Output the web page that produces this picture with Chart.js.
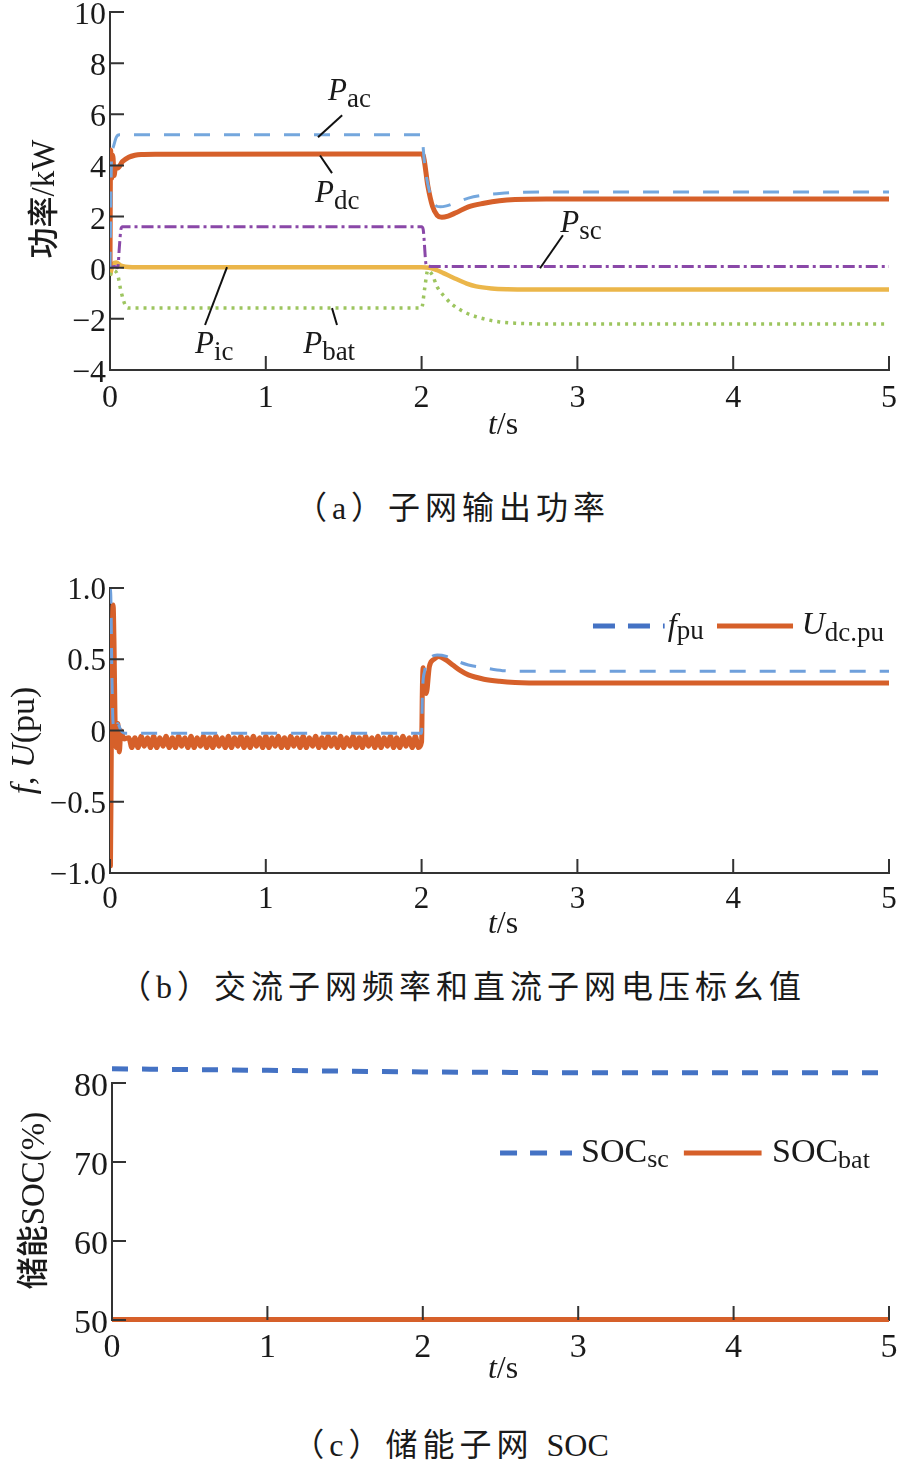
<!DOCTYPE html>
<html>
<head>
<meta charset="utf-8">
<script src="https://cdn.jsdelivr.net/npm/chart.js@4.4.1/dist/chart.umd.min.js"></script>
<style>
body { margin: 0; background: #fff; width: 897px; height: 1463px; position: relative; overflow: hidden; }
canvas { position: absolute; left: 0; }
.cap { position: absolute; width: 897px; text-align: center; font-family: "Liberation Serif", "Noto Sans CJK SC"; font-size: 32px; letter-spacing: 5px; color: #1a1a1a; line-height: 40px; white-space: nowrap; }
.cap span { letter-spacing: 0; }
</style>
</head>
<body>
<canvas id="chartA" width="897" height="445" style="top:0px"></canvas>
<div class="cap" style="top:488px;left:4px">（a）子网输出功率</div>
<canvas id="chartB" width="897" height="395" style="top:555px"></canvas>
<div class="cap" style="top:967px;left:14px">（b）交流子网频率和直流子网电压标幺值</div>
<canvas id="chartC" width="897" height="370" style="top:1030px"></canvas>
<div class="cap" style="top:1425px;left:2px">（c）储能子网 <span>SOC</span></div>
<script>
// ---- data: (a) output power, kW
const tAc  = [0, 0.01, 0.02, 0.04, 0.06, 2.0, 2.02, 2.05, 2.08, 2.12, 2.16, 2.22, 2.3, 2.4, 2.5, 2.6, 2.8, 5.0];
const pAc  = [0, 4.3, 4.7, 5.1, 5.2, 5.2, 4.0, 3.0, 2.5, 2.38, 2.42, 2.55, 2.72, 2.84, 2.9, 2.94, 2.96, 2.96];
const tDc  = [0, 0.004, 0.01, 0.018, 0.026, 0.035, 0.05, 0.08, 0.12, 0.16, 0.2, 0.3, 2.0, 2.01, 2.04, 2.07, 2.1, 2.13, 2.17, 2.22, 2.3, 2.4, 2.5, 2.6, 2.8, 5.0];
const pDc  = [0, 4.6, 3.5, 4.4, 3.6, 3.9, 3.9, 4.15, 4.32, 4.4, 4.43, 4.44, 4.45, 4.4, 3.2, 2.4, 2.05, 1.97, 2.02, 2.15, 2.38, 2.52, 2.62, 2.67, 2.69, 2.69];
const tSc  = [0, 0.03, 0.05, 0.06, 0.07, 0.08, 2.0, 2.01, 2.03, 2.06, 5.0];
const pSc  = [0, 0.05, 0.0, 0.8, 1.5, 1.6, 1.6, 1.5, 0.1, 0.05, 0.05];
const tIc  = [0, 0.02, 0.04, 0.07, 0.1, 0.2, 2.0, 2.05, 2.1, 2.14, 2.2, 2.29, 2.35, 2.45, 2.55, 2.7, 5.0];
const pIc  = [-0.3, 0.15, 0.2, 0.08, 0.04, 0.02, 0.02, 0.0, -0.1, -0.21, -0.38, -0.62, -0.73, -0.81, -0.84, -0.85, -0.85];
const tBat = [0, 0.02, 0.05, 0.07, 0.1, 0.12, 2.0, 2.02, 2.04, 2.07, 2.1, 2.15, 2.2, 2.29, 2.4, 2.5, 2.6, 2.8, 5.0];
const pBat = [-0.3, -0.1, -0.3, -0.9, -1.5, -1.58, -1.58, -0.8, -0.1, -0.3, -0.75, -1.15, -1.45, -1.78, -2.0, -2.12, -2.17, -2.2, -2.2];

// ---- data: (b) per-unit frequency / dc voltage
const tF  = [0, 0.005, 0.012, 0.02, 0.035, 0.05, 0.07, 0.1, 2.0, 2.005, 2.02, 2.05, 2.1, 2.16, 2.22, 2.3, 2.4, 2.52, 2.7, 5.0];
const fPu = [1.0, 0.95, 0.4, 0.05, 0.0, 0.05, 0.0, -0.02, -0.02, 0.25, 0.42, 0.5, 0.53, 0.52, 0.49, 0.46, 0.44, 0.42, 0.415, 0.415];
const tU = [0, 0.003, 0.008, 0.014, 0.02, 0.026, 0.032, 0.04, 0.05, 0.06, 0.07, 0.09, 0.12,
  0.14, 0.16, 0.18, 0.20, 0.22, 0.24, 0.26, 0.28, 0.30, 0.32, 0.34, 0.36, 0.38, 0.40, 0.42, 0.44, 0.46, 0.48, 0.50, 0.52,
  0.54, 0.56, 0.58, 0.60, 0.62, 0.64, 0.66, 0.68, 0.70, 0.72, 0.74, 0.76, 0.78, 0.80, 0.82, 0.84, 0.86, 0.88, 0.90, 0.92,
  0.94, 0.96, 0.98, 1.00, 1.02, 1.04, 1.06, 1.08, 1.10, 1.12, 1.14, 1.16, 1.18, 1.20, 1.22, 1.24, 1.26, 1.28, 1.30, 1.32,
  1.34, 1.36, 1.38, 1.40, 1.42, 1.44, 1.46, 1.48, 1.50, 1.52, 1.54, 1.56, 1.58, 1.60, 1.62, 1.64, 1.66, 1.68, 1.70, 1.72,
  1.74, 1.76, 1.78, 1.80, 1.82, 1.84, 1.86, 1.88, 1.90, 1.92, 1.94, 1.96, 1.98,
  2.0, 2.005, 2.01, 2.02, 2.03, 2.05, 2.08, 2.11, 2.15, 2.2, 2.25, 2.3, 2.4, 2.5, 2.6, 2.8, 5.0];
const uDc = [0, -0.95, -0.2, 0.6, 0.88, 0.6, 0.1, -0.12, 0.05, -0.15, 0.0, -0.06, -0.05,
  -0.12, -0.05, -0.12, -0.04, -0.11, -0.05, -0.12, -0.04, -0.12, -0.05, -0.11, -0.04, -0.12, -0.05, -0.12, -0.04, -0.11, -0.05, -0.12, -0.04,
  -0.12, -0.05, -0.11, -0.04, -0.12, -0.05, -0.12, -0.04, -0.11, -0.05, -0.12, -0.04, -0.12, -0.05, -0.11, -0.04, -0.12, -0.05, -0.12, -0.04,
  -0.11, -0.05, -0.12, -0.04, -0.12, -0.05, -0.11, -0.04, -0.12, -0.05, -0.12, -0.04, -0.11, -0.05, -0.12, -0.04, -0.12, -0.05, -0.11, -0.04,
  -0.12, -0.05, -0.12, -0.04, -0.11, -0.05, -0.12, -0.04, -0.12, -0.05, -0.11, -0.04, -0.12, -0.05, -0.12, -0.04, -0.11, -0.05, -0.12, -0.04,
  -0.12, -0.05, -0.11, -0.04, -0.12, -0.05, -0.12, -0.04, -0.11, -0.05, -0.12, -0.04, -0.12,
  -0.08, 0.3, 0.44, 0.32, 0.26, 0.45, 0.5, 0.52, 0.5, 0.46, 0.42, 0.39, 0.36, 0.345, 0.337, 0.333, 0.333];

// ---- data: (c) storage SOC, %
const tSoc   = [0, 0.5, 1, 1.5, 2, 2.5, 3, 4, 5];
const socSc  = [81.8, 81.7, 81.6, 81.5, 81.4, 81.35, 81.3, 81.3, 81.3];
const socBat = [50.05, 50.05, 50.05, 50.05, 50.05, 50.05, 50.05, 50.05, 50.05];

// ---- tick labels
const xLabels  = ['0', '1', '2', '3', '4', '5'];
const aYLabels = ['−4', '−2', '0', '2', '4', '6', '8', '10'];
const bYLabels = ['−1.0', '−0.5', '0', '0.5', '1.0'];
const cYLabels = ['50', '60', '70', '80'];

const SERIF = '"Liberation Serif","Times New Roman",serif';
const CJK = '"Noto Sans CJK SC",sans-serif';
const INK = '#1a1a1a';
const ORANGE = '#d6602a';
const BLUE = '#4472c4';

function pts(ts, vs) { return ts.map((t, i) => ({ x: t, y: vs[i] })); }

function rich(ctx, parts, x, y, align) {
  let w = 0;
  parts.forEach(p => { ctx.font = p[1]; w += ctx.measureText(p[0]).width; });
  let cx = align === 'center' ? x - w / 2 : x;
  ctx.textAlign = 'left';
  ctx.textBaseline = 'alphabetic';
  parts.forEach(p => {
    ctx.font = p[1];
    ctx.fillText(p[0], cx, y + (p[2] || 0));
    cx += ctx.measureText(p[0]).width;
  });
}

const tsTitle = [['t', 'italic 32px ' + SERIF], ['/s', '32px ' + SERIF]];

// inward ticks, labels, titles, callouts, keys
const decor = {
  id: 'decor',
  afterDatasetsDraw(chart, args, o) {
    const { ctx, scales: { x, y } } = chart;
    ctx.save();
    ctx.strokeStyle = '#333';
    ctx.lineWidth = 2;
    ctx.beginPath();
    x.ticks.forEach(t => { const p = x.getPixelForValue(t.value); ctx.moveTo(p, y.bottom); ctx.lineTo(p, y.bottom - 14); });
    y.ticks.forEach(t => { const p = y.getPixelForValue(t.value); ctx.moveTo(x.left, p); ctx.lineTo(x.left + 14, p); });
    ctx.stroke();

    ctx.fillStyle = INK;
    ctx.font = o.tickFont;
    ctx.textBaseline = 'alphabetic';
    ctx.textAlign = 'center';
    x.ticks.forEach((t, i) => ctx.fillText(xLabels[i], x.getPixelForValue(t.value), y.bottom + o.xLabelDy));
    ctx.textAlign = 'right';
    y.ticks.forEach((t, i) => ctx.fillText(o.yLabels[i], x.left - 4, y.getPixelForValue(t.value) + o.yLabelDy));

    rich(ctx, tsTitle, 503, y.bottom + o.xTitleDy, 'center');

    ctx.save();
    ctx.translate(o.yTitleX, (y.top + y.bottom) / 2 + o.yTitleDy);
    ctx.rotate(-Math.PI / 2);
    rich(ctx, o.yTitle, 0, 11, 'center');
    ctx.restore();

    (o.notes || []).forEach(n => {
      ctx.beginPath();
      ctx.lineWidth = 2;
      ctx.strokeStyle = '#111';
      ctx.moveTo(x.getPixelForValue(n.line[0]), y.getPixelForValue(n.line[1]));
      ctx.lineTo(x.getPixelForValue(n.line[2]), y.getPixelForValue(n.line[3]));
      ctx.stroke();
      rich(ctx, n.text, x.getPixelForValue(n.at[0]), y.getPixelForValue(n.at[1]), 'left');
    });

    (o.keys || []).forEach(k => {
      const py = y.getPixelForValue(k.y);
      ctx.beginPath();
      ctx.strokeStyle = k.color;
      ctx.lineWidth = k.width;
      ctx.setLineDash(k.dash || []);
      ctx.moveTo(x.getPixelForValue(k.x1), py);
      ctx.lineTo(x.getPixelForValue(k.x2), py);
      ctx.stroke();
      ctx.setLineDash([]);
      rich(ctx, k.text, x.getPixelForValue(k.tx), y.getPixelForValue(k.ty), 'left');
    });
    ctx.restore();
  }
};

function makeChart(id, c) {
  return new Chart(document.getElementById(id), {
    type: 'line',
    data: { datasets: c.datasets },
    options: {
      responsive: false,
      animation: false,
      devicePixelRatio: 1,
      layout: { padding: { top: c.top, right: 8, left: 0, bottom: 0 } },
      elements: {
        point: { radius: 0 },
        line: { cubicInterpolationMode: 'monotone', borderJoinStyle: 'round' }
      },
      plugins: { legend: { display: false }, tooltip: { enabled: false }, decor: c.decor },
      scales: {
        x: {
          type: 'linear', min: 0, max: 5,
          ticks: { display: false, stepSize: 1 },
          grid: { display: false },
          border: { color: '#333', width: 2 },
          afterFit: s => { s.height = c.xh; }
        },
        y: {
          type: 'linear', min: c.ymin, max: c.ymax,
          ticks: { display: false, stepSize: c.ystep },
          grid: { display: false },
          border: { color: '#333', width: 2 },
          afterFit: s => { s.width = c.yw; }
        }
      }
    },
    plugins: [decor]
  });
}

const P = 'italic 31px ' + SERIF;
const S = '27px ' + SERIF;

makeChart('chartA', {
  top: 12, xh: 75, yw: 110, ymin: -4, ymax: 10, ystep: 2,
  datasets: [
    { data: pts(tAc, pAc), borderColor: '#74a7dd', borderWidth: 3, borderDash: [16, 14] },
    { data: pts(tSc, pSc), borderColor: '#8a48a8', borderWidth: 3, borderDash: [12, 4, 3, 4] },
    { data: pts(tBat, pBat), borderColor: '#9dc55f', borderWidth: 3.5, borderDash: [3, 5] },
    { data: pts(tDc, pDc), borderColor: ORANGE, borderWidth: 5 },
    { data: pts(tIc, pIc), borderColor: '#ebb64a', borderWidth: 4.5 }
  ],
  decor: {
    tickFont: '32px ' + SERIF, yLabels: aYLabels, xLabelDy: 37, yLabelDy: 12, xTitleDy: 64,
    yTitleX: 43, yTitleDy: 8,
    yTitle: [['功率', '500 31px ' + CJK], ['/kW', '33px ' + SERIF]],
    notes: [
      { text: [['P', P], ['ac', S, 7]], at: [1.40, 6.55], line: [1.49, 5.96, 1.335, 5.1] },
      { text: [['P', P], ['dc', S, 7]], at: [1.316, 2.56], line: [1.348, 4.39, 1.425, 3.70] },
      { text: [['P', P], ['sc', S, 7]], at: [2.89, 1.39], line: [2.907, 1.27, 2.76, -0.02] },
      { text: [['P', P], ['ic', S, 7]], at: [0.546, -3.34], line: [0.751, 0.02, 0.61, -2.24] },
      { text: [['P', P], ['bat', S, 7]], at: [1.24, -3.34], line: [1.425, -1.58, 1.457, -2.24] }
    ]
  }
});

makeChart('chartB', {
  top: 33, xh: 77, yw: 110, ymin: -1, ymax: 1, ystep: 0.5,
  datasets: [
    { data: pts(tF, fPu), borderColor: '#6fa0dc', borderWidth: 3, borderDash: [16, 14] },
    { data: pts(tU, uDc), borderColor: ORANGE, borderWidth: 5 }
  ],
  decor: {
    tickFont: '31px ' + SERIF, yLabels: bYLabels, xLabelDy: 35, yLabelDy: 11, xTitleDy: 60,
    yTitleX: 23, yTitleDy: 10,
    yTitle: [['f', 'italic 34px ' + SERIF], [', ', '34px ' + SERIF], ['U', 'italic 34px ' + SERIF], ['(pu)', '34px ' + SERIF]],
    keys: [
      { x1: 3.1, x2: 3.56, y: 0.733, color: BLUE, width: 5, dash: [22, 13],
        text: [['f', 'italic 32px ' + SERIF], ['pu', '27px ' + SERIF, 4]], tx: 3.58, ty: 0.67 },
      { x1: 3.896, x2: 4.384, y: 0.733, color: ORANGE, width: 5,
        text: [['U', 'italic 32px ' + SERIF], ['dc.pu', '27px ' + SERIF, 7]], tx: 4.44, ty: 0.68 }
    ]
  }
});

makeChart('chartC', {
  top: 53, xh: 80, yw: 112, ymin: 50, ymax: 80, ystep: 10,
  datasets: [
    { data: pts(tSoc, socSc), borderColor: BLUE, borderWidth: 5, borderDash: [16, 14], clip: false },
    { data: pts(tSoc, socBat), borderColor: ORANGE, borderWidth: 5, clip: false }
  ],
  decor: {
    tickFont: '34px ' + SERIF, yLabels: cYLabels, xLabelDy: 37, yLabelDy: 13, xTitleDy: 58,
    yTitleX: 33, yTitleDy: -1,
    yTitle: [['储能', '500 32px ' + CJK], ['SOC(%)', '33px ' + SERIF]],
    keys: [
      { x1: 2.497, x2: 2.96, y: 71.14, color: BLUE, width: 5, dash: [17, 13],
        text: [['SOC', '34px ' + SERIF], ['sc', '26px ' + SERIF, 5]], tx: 3.018, ty: 70.0 },
      { x1: 3.68, x2: 4.18, y: 71.14, color: ORANGE, width: 5,
        text: [['SOC', '34px ' + SERIF], ['bat', '26px ' + SERIF, 6]], tx: 4.247, ty: 70.0 }
    ]
  }
});
</script>
</body>
</html>
